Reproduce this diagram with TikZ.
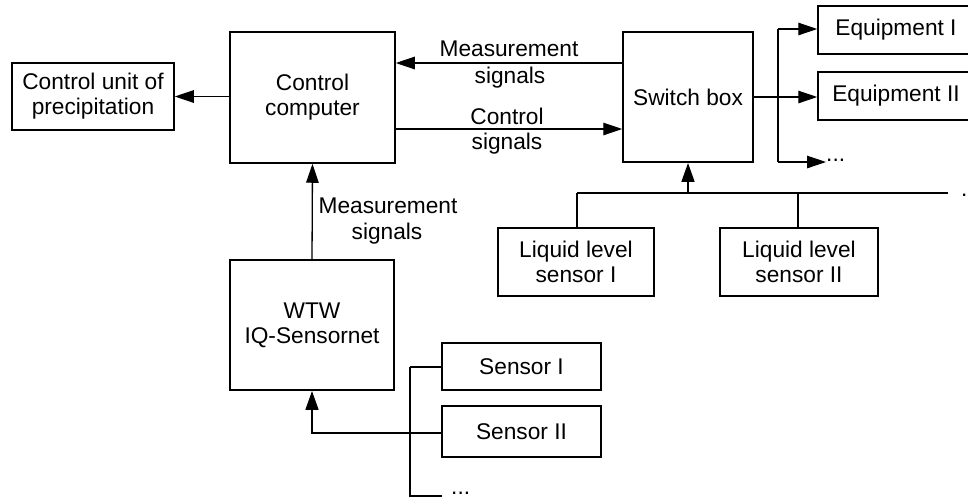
\documentclass[tikz,border=0pt]{standalone}
\usepackage{fontspec}
\setmainfont{Liberation Sans}
\usetikzlibrary{arrows.meta}
\begin{document}
\begin{tikzpicture}[x=1pt,y=-1pt,
  txt/.style={font=\fontsize{22.7pt}{25pt}\selectfont, inner sep=0pt},
  box/.style={txt, draw, line width=1.5pt, align=center},
  thin/.style={line width=1.3pt},
  thick/.style={line width=2.8pt},
  arr/.style={thin, -{Triangle[length=19pt,width=12.5pt]}},
  tarr/.style={thick, -{Triangle[length=19pt,width=12.5pt]}},
  lbl/.style={txt, anchor=base}
]
\useasboundingbox (0,0) rectangle (968,499);
\clip (0,0) rectangle (968,499);

% boxes
\node[box, minimum width=162pt, minimum height=67pt] (cu) at (93,96.5) {Control unit of\\precipitation};
\node[box, minimum width=165pt, minimum height=131pt] (cc) at (312.5,97.5) {Control\\computer};
\node[box, minimum width=130pt, minimum height=130pt] (sb) at (688,97) {Switch box};
\node[box, minimum width=156pt, minimum height=48pt] (e1) at (896,30) {Equipment I};
\node[box, minimum width=156pt, minimum height=48pt] (e2) at (896,96) {Equipment II};
\node[box, minimum width=156pt, minimum height=68pt] (ll1) at (576,262) {Liquid level\\sensor I};
\node[box, minimum width=158pt, minimum height=68pt] (ll2) at (799,262) {Liquid level\\sensor II};
\node[box, minimum width=164pt, minimum height=130pt] (wtw) at (312,325) {WTW\\IQ-Sensornet};
\node[box, minimum width=159pt, minimum height=47pt] (s1) at (521.5,366.5) {Sensor I};
\node[box, minimum width=159pt, minimum height=51pt] (s2) at (521.5,431.5) {Sensor II};

% labels
\node[lbl] (lm1) at (509,56) {Measurement};
\node[lbl] (lm2) at (510,83) {signals};
\node[lbl] (lc1) at (507,124) {Control};
\node[lbl] (lc2) at (507,149) {signals};
\node[lbl] (lw1) at (388,213) {Measurement};
\node[lbl] (lw2) at (387,239) {signals};
\node[txt, anchor=base west] (edots) at (826,161) {...};
\node[txt, anchor=base west] (bdots) at (961,196) {.};
\node[txt, anchor=base west] (sdots) at (451,494) {...};

% control computer connections
\draw[arr] (cc.west |- cu.east) -- (cu.east);
\draw[arr] (sb.west |- 0,63) -- (cc.east |- 0,63);
\draw[arr] (cc.east |- 0,129) -- (sb.west |- 0,129);
\draw[arr] (wtw.north) -- (cc.south);

% switch box outputs
\coordinate (jo) at (778,97);
\coordinate (jt) at (778,29);
\coordinate (jb) at (778,162);
\draw[thick] (sb.east |- jo) -- (jo);
\draw[thin] (jt) -- (jb);
\draw[arr] (jt) -- (e1.west |- jt);
\draw[arr] (jo) -- (e2.west |- jo);
\draw[arr] (jb) -- (edots.west |- jb);

% liquid level bus
\coordinate (b1) at (577,193);
\coordinate (b2) at (798,193);
\coordinate (bs) at (688,193);
\coordinate (be) at (948,193);
\draw[thin] (b2) -- (be);
\draw[thin] (ll1.north -| b1) -- (b1);
\draw[thin] (ll2.north -| b2) -- (b2);
\draw[thick] (b1) -- (b2);
\draw[tarr] (bs) -- (sb.south);

% sensor bus
\coordinate (v1) at (410,367);
\coordinate (v2) at (410,433);
\coordinate (v3) at (410,496);
\coordinate (w1) at (312,433);
\draw[thin] (v1) -- (v3) -- (442,496);
\draw[thin] (s1.west |- v1) -- (v1);
\draw[thin] (s2.west |- v2) -- (v2);
\draw[tarr] (v2) -- (w1) -- (wtw.south);
\end{tikzpicture}
\end{document}
